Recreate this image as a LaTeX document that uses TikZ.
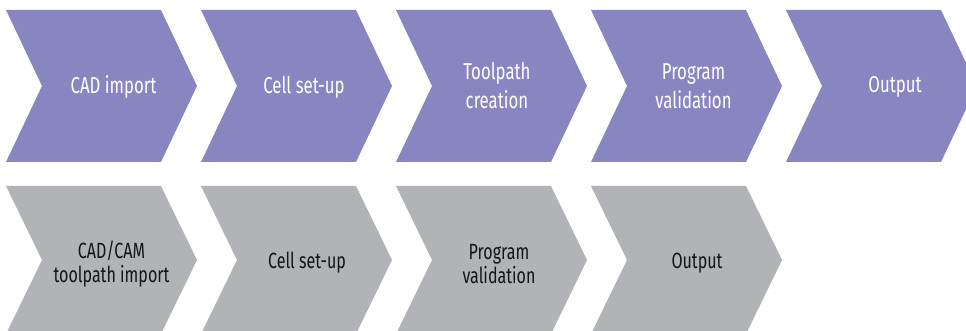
\documentclass[tikz,border=0pt]{standalone}
\usepackage{fontspec}
\setmainfont{Fira Sans}[FakeStretch=0.73]
\definecolor{chevpurple}{RGB}{137,133,192}
\definecolor{chevgray}{RGB}{177,179,182}
\definecolor{labeldark}{RGB}{20,20,20}
\tikzset{
  toplabel/.style={text=white, font=\fontsize{23}{29}\selectfont, align=center, inner sep=0pt},
  botlabel/.style={text=labeldark, font=\fontsize{22}{24}\selectfont, align=center, inner sep=0pt}
}
\begin{document}
\begin{tikzpicture}[x=1pt,y=-1pt]
\useasboundingbox (0,0) rectangle (966,331);
\clip (0,0) rectangle (966,331);
% top row of chevrons
\foreach \x in {6,201,396,591,786}{
  \fill[chevpurple] (\x,10) -- (\x+155,10) -- (\x+191,86) -- (\x+155,162) -- (\x,162) -- (\x+36,86) -- cycle;
}
% bottom row of chevrons
\foreach \x in {6,201,396,591}{
  \fill[chevgray] (\x,186) -- (\x+155,186) -- (\x+191,260) -- (\x+155,334) -- (\x,334) -- (\x+36,260) -- cycle;
}
% top labels
\node[toplabel] (t1) at (113.5,87) {CAD import};
\node[toplabel] (t2) at (304,87) {Cell set-up};
\node[toplabel] (t3) at (497,86) {Toolpath\\creation};
\node[toplabel] (t4) at (693.5,86) {Program\\validation};
\node[toplabel] (t5) at (895,87) {Output};
% bottom labels
\node[botlabel] (b1) at (111.5,264) {CAD/CAM\\toolpath import};
\node[botlabel] (b2) at (307,263) {Cell set-up};
\node[botlabel] (b3) at (499,264) {Program\\validation};
\node[botlabel] (b4) at (697,263) {Output};
\end{tikzpicture}
\end{document}
